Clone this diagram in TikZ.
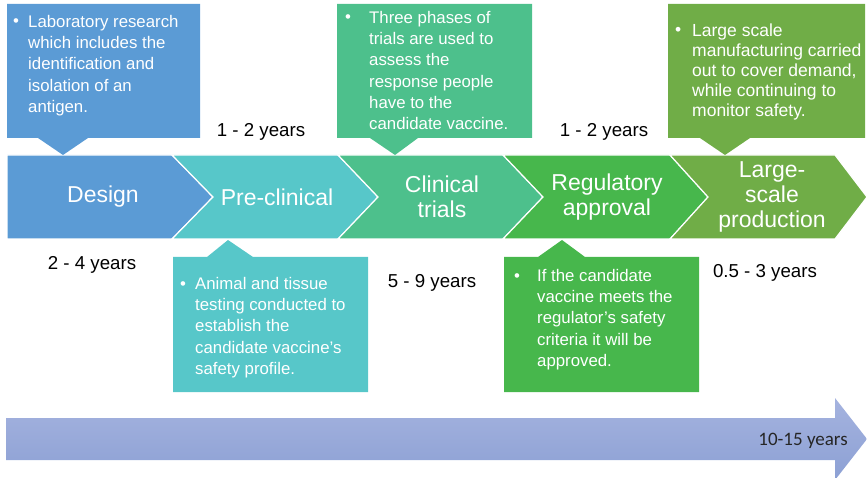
\documentclass[tikz,border=0pt]{standalone}
\usepackage{fontspec}
\setmainfont{Liberation Sans}
\newfontfamily\calibfont{Carlito}
\usepackage{tikz}
\usetikzlibrary{shadings}
\definecolor{designblue}{HTML}{5B9BD5}
\definecolor{preclteal}{HTML}{57C7C9}
\definecolor{clingreen}{HTML}{4DC08C}
\definecolor{regulgreen}{HTML}{47B74C}
\definecolor{prodgreen}{HTML}{70AD47}
\definecolor{spantop}{HTML}{A5B3DF}
\definecolor{spanbot}{HTML}{8CA0D4}

\begin{document}
\begin{tikzpicture}[x=1pt, y=-1pt,
  stage/.style={text=white, align=center, inner sep=0pt, font=\fontsize{23}{25}\selectfont},
  yrs/.style={inner sep=0pt, font=\fontsize{18.7}{22}\selectfont},
  note/.style={text=white, anchor=north west, inner sep=0pt, align=left, font=\fontsize{16.8}{21.3}\selectfont},
  dot/.style={text=white, anchor=base west, inner sep=0pt, font=\fontsize{16.8}{21.3}\selectfont},
  gap/.style={draw=white, line width=1.2pt}]
\useasboundingbox (0,0) rectangle (867,478);

% the five stages
\fill[designblue, gap] (7,155) -- (172,155) -- (213,197) -- (172,239) -- (7,239) -- cycle;
\fill[preclteal, gap] (172,155) -- (338,155) -- (378,197) -- (338,239) -- (172,239) -- (213,197) -- cycle;
\fill[clingreen, gap] (338,155) -- (503,155) -- (543,197) -- (503,239) -- (338,239) -- (378,197) -- cycle;
\fill[regulgreen, gap] (503,155) -- (670,155) -- (708,197) -- (670,239) -- (503,239) -- (543,197) -- cycle;
\fill[prodgreen, gap] (670,155) -- (835,155) -- (867,197) -- (835,239) -- (670,239) -- (708,197) -- cycle;
\node[stage] (design) at (103,197) {Design};
\node[stage] (precl) at (277,197) {Pre-clinical};
\node[stage] (clin) at (442,197) {Clinical\\trials};
\node[stage] (regul) at (607,197) {Regulatory\\approval};
\node[stage] (prod) at (772,197) {Large-\\scale\\production};

% callouts above the band
\fill[designblue] (7,4) -- (200,4) -- (200,138) -- (88,138) -- (63,155) -- (38,138) -- (7,138) -- cycle;
\node[dot] (dot1) at (13,27) {•};
\node[note] (note1) at (28,15) {Laboratory research\\which includes the\\identification and\\isolation of an\\antigen.};
\fill[clingreen] (337,4) -- (532,4) -- (532,138) -- (418,138) -- (395,155) -- (370,138) -- (337,138) -- cycle;
\node[dot] (dot2) at (345,23) {•};
\node[note] (note2) at (369,11) {Three phases of\\trials are used to\\assess the\\response people\\have to the\\candidate vaccine.};
\fill[prodgreen] (668,4) -- (865,4) -- (865,138) -- (750,138) -- (725,155) -- (700,138) -- (668,138) -- cycle;
\node[dot, font=\fontsize{17.5}{20}\selectfont] (dot3) at (675,36) {•};
\node[note, font=\fontsize{17.5}{20}\selectfont] (note3) at (692,24) {Large scale\\manufacturing carried\\out to cover demand,\\while continuing to\\monitor safety.};

% callouts below the band
\fill[preclteal] (173,257) -- (207,257) -- (228,240) -- (253,257) -- (368,257) -- (368,392) -- (173,392) -- cycle;
\node[dot] (dot4) at (180,289) {•};
\node[note] (note4) at (195,277) {Animal and tissue\\testing conducted to\\establish the\\candidate vaccine’s\\safety profile.};
\fill[regulgreen] (504,257) -- (538,257) -- (562,240) -- (585,257) -- (699,257) -- (699,392) -- (504,392) -- cycle;
\node[dot] (dot5) at (514,281) {•};
\node[note] (note5) at (537,269) {If the candidate\\vaccine meets the\\regulator’s safety\\criteria it will be\\approved.};

% durations
\node[yrs] (y1) at (261,132) {1 - 2 years};
\node[yrs] (y2) at (92,265) {2 - 4 years};
\node[yrs] (y3) at (432,283) {5 - 9 years};
\node[yrs] (y4) at (604,132) {1 - 2 years};
\node[yrs] (y5) at (765,273) {0.5 - 3 years};

% overall span
\shade[top color=spantop, bottom color=spanbot] (6,418) -- (835,418) -- (835,398) -- (867,439) -- (835,480) -- (835,460) -- (6,460) -- cycle;
\node[inner sep=0pt, text=black!85, font=\calibfont\fontsize{19}{22}\selectfont] (total) at (803,441) {10-15 years};
\end{tikzpicture}
\end{document}
